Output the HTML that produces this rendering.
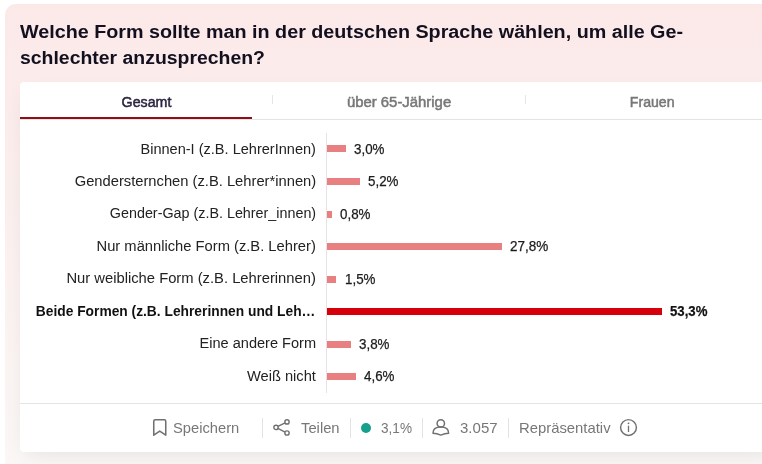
<!DOCTYPE html>
<html lang="de">
<head>
<meta charset="utf-8">
<title>Umfrage</title>
<style>
*{box-sizing:border-box;margin:0;padding:0}
html,body{width:762px;height:464px;overflow:hidden;background:#fff}
body{font-family:"Liberation Sans",sans-serif;position:relative;color:#222}
.outer{position:absolute;left:5px;top:4px;width:790px;height:520px;border-radius:11px;
  background:linear-gradient(180deg,#fbe9e8 0px,#faf7f6 460px)}
h1{position:absolute;left:20px;top:18.5px;font-size:17.5px;line-height:26px;font-weight:700;color:#12101f;letter-spacing:0;white-space:nowrap}
h1 span{display:block;transform-origin:0 50%;height:26px}
.card{position:absolute;left:20px;top:82px;width:759px;height:370px;background:#fff;border-radius:4px;
  box-shadow:0 8px 20px -6px rgba(20,10,10,.09)}
.tabs{position:absolute;left:0;top:0;width:759px;height:38px;border-bottom:1px solid #e4e4e4}
.tab{position:absolute;top:0;width:253px;height:37px;text-align:center;font-size:14px;line-height:41px;color:#777;font-weight:400;-webkit-text-stroke:.5px #777}
.tab span{display:inline-block}
.tab.active{color:#2b2440;-webkit-text-stroke-color:#2b2440}
.tab.active:after{content:"";position:absolute;left:0;bottom:0;width:232px;height:2px;background:#920d15}
.tick{position:absolute;top:13px;width:1px;height:9px;background:#e5e5e5}
.axis{position:absolute;left:306px;top:51px;width:1px;height:260px;background:#e4e4e4}
.row{position:absolute;left:0;width:759px;height:20px}
.lbl{position:absolute;right:463.200px;top:-.5px;font-size:15.5px;line-height:20px;color:#222;white-space:nowrap;transform-origin:100% 50%}
.bar{position:absolute;left:307px;top:6px;height:7px;background:#e87f80}
.val{position:absolute;top:0;font-size:14px;line-height:20px;color:#1c1c1c;white-space:nowrap;transform-origin:0 50%;-webkit-text-stroke:.25px #1c1c1c}
.row.hl .lbl,.row.hl .val{font-weight:700;color:#111}
.row.hl .bar{background:#d6000a}
.foot{position:absolute;left:0;top:321px;width:759px;height:49px;border-top:1px solid #e4e4e4}
.fi{position:absolute;top:13px;font-size:15px;line-height:22px;color:#777;white-space:nowrap;transform-origin:0 50%}
.sep{position:absolute;top:14px;width:1px;height:20px;background:#e2e2e2}
.dot{position:absolute;left:341px;top:19px;width:10px;height:10px;border-radius:50%;background:#169f8b}
svg{position:absolute;overflow:visible}
</style>
</head>
<body>
<div class="outer"></div>
<h1><span style="transform:scaleX(1.1275)">Welche Form sollte man in der deutschen Sprache wählen, um alle Ge-</span><span style="transform:scaleX(1.1097)">schlechter anzusprechen?</span></h1>
<div class="card">
  <div class="tabs">
    <div class="tab active" style="left:0"><span style="transform:scaleX(1.016)">Gesamt</span></div>
    <div class="tick" style="left:252px"></div>
    <div class="tab" style="left:253px"><span style="transform:scaleX(1.0636)">über 65-Jährige</span></div>
    <div class="tick" style="left:505px"></div>
    <div class="tab" style="left:506px"><span style="transform:scaleX(1.0077)">Frauen</span></div>
  </div>
  <div class="axis"></div>
  <div class="row" style="top:57.0px"><span class="lbl" style="transform:scaleX(0.9387)">Binnen-I (z.B. LehrerInnen)</span><span class="bar" style="top:6.0px;width:18.9px"></span><span class="val" style="left:334.1px;transform:scaleX(0.9555)">3,0%</span></div>
  <div class="row" style="top:89.3px"><span class="lbl" style="transform:scaleX(0.9501)">Gendersternchen (z.B. Lehrer*innen)</span><span class="bar" style="top:6.7px;width:32.7px"></span><span class="val" style="left:347.9px;transform:scaleX(0.9555)">5,2%</span></div>
  <div class="row" style="top:121.6px"><span class="lbl" style="transform:scaleX(0.9245)">Gender-Gap (z.B. Lehrer_innen)</span><span class="bar" style="top:7.4px;width:5.0px"></span><span class="val" style="left:320.2px;transform:scaleX(0.9555)">0,8%</span></div>
  <div class="row" style="top:154.0px"><span class="lbl" style="transform:scaleX(0.95)">Nur männliche Form (z.B. Lehrer)</span><span class="bar" style="top:7.0px;width:174.7px"></span><span class="val" style="left:489.9px;transform:scaleX(0.9647)">27,8%</span></div>
  <div class="row" style="top:186.6px"><span class="lbl" style="transform:scaleX(0.9527)">Nur weibliche Form (z.B. Lehrerinnen)</span><span class="bar" style="top:7.4px;width:9.4px"></span><span class="val" style="left:324.6px;transform:scaleX(0.9555)">1,5%</span></div>
  <div class="row hl" style="top:219.0px"><span class="lbl" style="transform:scaleX(0.8892)">Beide Formen (z.B. Lehrerinnen und Leh…</span><span class="bar" style="top:7.0px;width:335.0px"></span><span class="val" style="left:650.2px;transform:scaleX(0.942)">53,3%</span></div>
  <div class="row" style="top:251.6px"><span class="lbl" style="transform:scaleX(0.939)">Eine andere Form</span><span class="bar" style="top:7.4px;width:23.9px"></span><span class="val" style="left:339.1px;transform:scaleX(0.9555)">3,8%</span></div>
  <div class="row" style="top:284.2px"><span class="lbl" style="transform:scaleX(0.946)">Weiß nicht</span><span class="bar" style="top:6.8px;width:28.9px"></span><span class="val" style="left:344.1px;transform:scaleX(0.9555)">4,6%</span></div>
  <div class="foot">
    <svg style="left:132.600px;top:15.200px" width="14" height="17" viewBox="0 0 14 17"><path d="M.75 2.200Q.75 .75 2.200 .75H11.300Q12.750 .75 12.750 2.200V16.200L6.750 12.100L.75 16.200Z" fill="none" stroke="#707070" stroke-width="1.550" stroke-linejoin="round"/></svg>
    <span class="fi" style="left:153px;transform:scaleX(0.9815)">Speichern</span>
    <div class="sep" style="left:242px"></div>
    <svg style="left:253px;top:15px" width="17" height="17" viewBox="0 0 17 17"><g fill="none" stroke="#707070" stroke-width="1.400"><circle cx="14" cy="2.900" r="2.150"/><circle cx="3" cy="8.450" r="2.150"/><circle cx="14" cy="14" r="2.150"/><path d="M4.950 7.450l7.100-3.600M4.950 9.450l7.100 3.600"/></g></svg>
    <span class="fi" style="left:280.700px;transform:scaleX(0.9846)">Teilen</span>
    <div class="sep" style="left:330px"></div>
    <div class="dot"></div>
    <span class="fi" style="left:360.700px;transform:scaleX(0.9063)">3,1%</span>
    <div class="sep" style="left:402px"></div>
    <svg style="left:412.200px;top:15px" width="18" height="17" viewBox="0 0 18 17"><g fill="none" stroke="#707070" stroke-width="1.500" stroke-linejoin="round"><circle cx="8.800" cy="4.400" r="3.700"/><path d="M1 14.300C1 10.300 4.200 8.100 8.800 8.100C13.400 8.100 16.600 10.300 16.600 14.300Q12.800 14.400 8.800 16.100Q4.800 14.400 1 14.300Z"/></g></svg>
    <span class="fi" style="left:440.300px;transform:scaleX(1.0014)">3.057</span>
    <div class="sep" style="left:488px"></div>
    <span class="fi" style="left:499px;transform:scaleX(0.9896)">Repräsentativ</span>
    <svg style="left:599.900px;top:15px" width="17" height="17" viewBox="0 0 17 17"><circle cx="8.500" cy="8.500" r="7.900" fill="none" stroke="#707070" stroke-width="1.450"/><path d="M8.500 6.700v6.300" stroke="#707070" stroke-width="1.300" fill="none"/><circle cx="8.500" cy="4.300" r=".9" fill="#707070"/></svg>
  </div>
</div>
</body>
</html>
